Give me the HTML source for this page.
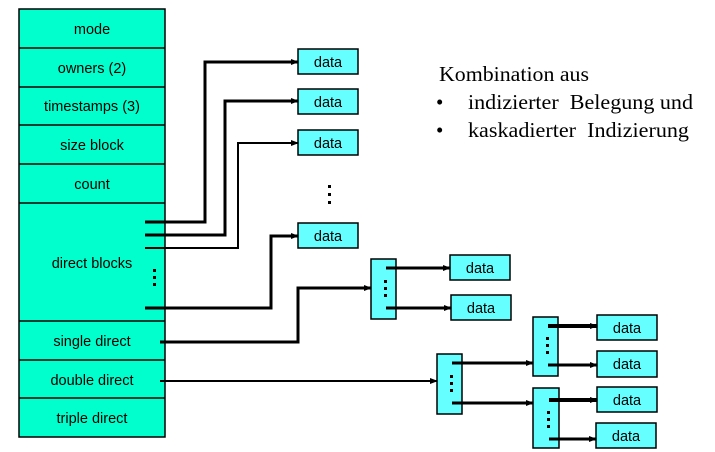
<!DOCTYPE html>
<html><head><meta charset="utf-8"><style>body{margin:0;background:#fff}svg{display:block}</style></head><body>
<svg width="715" height="452" viewBox="0 0 715 452" xmlns="http://www.w3.org/2000/svg">
<defs><marker id="a" markerWidth="8" markerHeight="8" refX="7" refY="4" orient="auto" markerUnits="userSpaceOnUse"><path d="M0,1 L8,4 L0,7z" fill="#000"/></marker></defs>
<g stroke="#000" stroke-width="1.5" fill="#00ffcc">
<rect x="19" y="9" width="146" height="428"/>
<line x1="19" y1="48" x2="165" y2="48"/><line x1="19" y1="87" x2="165" y2="87"/>
<line x1="19" y1="125" x2="165" y2="125"/><line x1="19" y1="164" x2="165" y2="164"/>
<line x1="19" y1="203" x2="165" y2="203"/><line x1="19" y1="321" x2="165" y2="321"/>
<line x1="19" y1="360" x2="165" y2="360"/><line x1="19" y1="398" x2="165" y2="398"/>
</g>
<g font-family="Liberation Sans, sans-serif" font-size="14.5" text-anchor="middle" fill="#000">
<text x="92" y="34">mode</text><text x="92" y="73">owners (2)</text><text x="92" y="111">timestamps (3)</text>
<text x="92" y="150">size block</text><text x="92" y="189">count</text><text x="92" y="268">direct blocks</text>
<text x="92" y="346">single direct</text><text x="92" y="385">double direct</text><text x="92" y="423">triple direct</text>
</g>
<g fill="#66ffff" stroke="#000" stroke-width="1.5">
<rect x="298" y="49" width="60" height="25"/><rect x="298" y="89" width="60" height="25"/>
<rect x="298" y="130" width="60" height="25"/><rect x="298" y="223" width="60" height="25"/>
<rect x="450" y="255" width="60" height="25"/><rect x="451" y="295" width="60" height="25"/>
<rect x="597" y="315" width="60" height="25"/><rect x="597" y="351" width="60" height="26"/>
<rect x="597" y="387" width="60" height="25"/><rect x="596" y="423" width="60" height="25"/>
<rect x="371" y="259" width="25" height="60"/><rect x="437" y="354" width="25" height="60"/>
<rect x="533" y="317" width="25" height="59"/><rect x="533" y="388" width="26" height="60"/>
</g>
<g font-family="Liberation Sans, sans-serif" font-size="14.5" text-anchor="middle" fill="#000">
<text x="328" y="67">data</text><text x="328" y="107">data</text><text x="328" y="148">data</text><text x="328" y="241">data</text>
<text x="480" y="273">data</text><text x="481" y="313">data</text>
<text x="627" y="333">data</text><text x="627" y="369">data</text><text x="627" y="405">data</text><text x="626" y="441">data</text>
</g>
<g fill="#000">
<rect x="328" y="185" width="3" height="3"/><rect x="328" y="193" width="3" height="3"/><rect x="328" y="201" width="3" height="3"/>
<rect x="153" y="269" width="3" height="3"/><rect x="153" y="276" width="3" height="3"/><rect x="153" y="283" width="3" height="3"/>
<rect x="384" y="280" width="3" height="3"/><rect x="384" y="287" width="3" height="3"/><rect x="384" y="294" width="3" height="3"/>
<rect x="450" y="375" width="3" height="3"/><rect x="450" y="382" width="3" height="3"/><rect x="450" y="389" width="3" height="3"/>
<rect x="546" y="337" width="3" height="3"/><rect x="546" y="344" width="3" height="3"/><rect x="546" y="351" width="3" height="3"/>
<rect x="547" y="411" width="3" height="3"/><rect x="547" y="418" width="3" height="3"/><rect x="547" y="425" width="3" height="3"/>
</g>
<g stroke="#000" fill="none" stroke-width="3" marker-end="url(#a)">
<polyline points="145,222 205,222 205,62 298,62"/>
<polyline points="145,235 225,235 225,101 298,101"/>
<polyline points="145,248 238,248 238,143 298,143" stroke-width="2"/>
<polyline points="145,308 271,308 271,236 298,236"/>
<polyline points="160,342 298,342 298,288 371,288"/>
<polyline points="160,381 437,381" stroke-width="2"/>
<line x1="386" y1="268" x2="450" y2="268"/><line x1="386" y1="308" x2="451" y2="308"/>
<line x1="452" y1="363" x2="533" y2="363"/><line x1="452" y1="403" x2="533" y2="403"/>
<line x1="548" y1="326" x2="597" y2="326" stroke-width="4"/><line x1="548" y1="365" x2="597" y2="365"/>
<line x1="549" y1="400" x2="597" y2="400" stroke-width="4"/><line x1="549" y1="439" x2="596" y2="439"/>
</g>
<g font-family="Liberation Serif, serif" font-size="21" fill="#000">
<text x="439" y="81" textLength="150" lengthAdjust="spacingAndGlyphs">Kombination aus</text>
<text x="436" y="109">•</text><text x="468" y="109" xml:space="preserve" textLength="225" lengthAdjust="spacingAndGlyphs">indizierter  Belegung und</text>
<text x="436" y="137">•</text><text x="468" y="137" xml:space="preserve" textLength="221" lengthAdjust="spacingAndGlyphs">kaskadierter  Indizierung</text>
</g>
</svg>
</body></html>
